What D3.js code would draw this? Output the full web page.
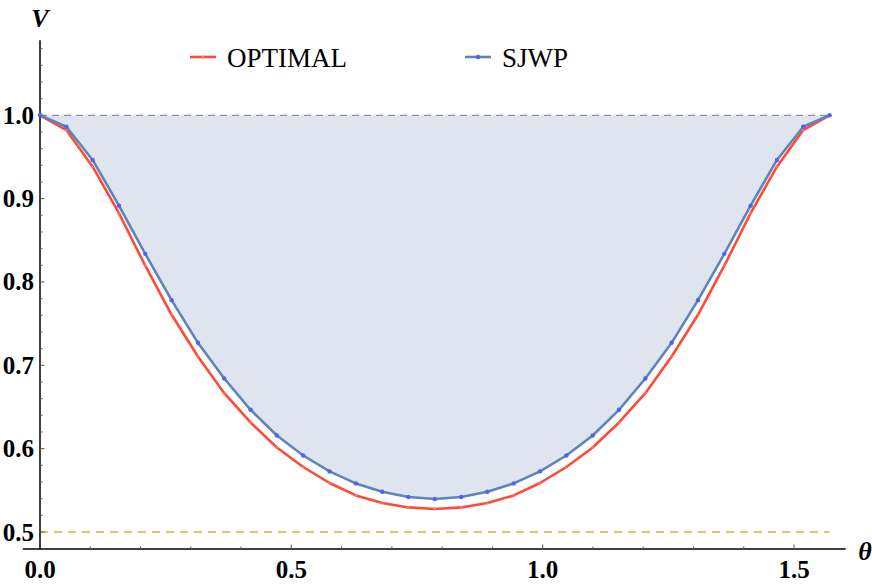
<!DOCTYPE html>
<html>
<head>
<meta charset="utf-8">
<script src="https://cdn.jsdelivr.net/npm/d3@7"></script>
<style>
  body { margin: 0; background: #fff; }
  svg { display: block; }
  .tick-label { font-family: "Liberation Serif", "Times New Roman", serif; font-weight: bold; font-size: 25px; fill: #000; }
  .legend-label { font-family: "Liberation Serif", "Times New Roman", serif; font-size: 27px; fill: #000; }
  .axis-label { font-family: "Liberation Serif", "Times New Roman", serif; font-weight: bold; font-style: italic; font-size: 26px; fill: #000; }
</style>
</head>
<body>
<svg id="chart" width="872" height="586"></svg>
<script>
const theta = [0, 0.0524, 0.1047, 0.1571, 0.2094, 0.2618, 0.3142, 0.3665, 0.4189, 0.4712,
  0.5236, 0.5760, 0.6283, 0.6807, 0.7330, 0.7854, 0.8378, 0.8901, 0.9425, 0.9948,
  1.0472, 1.0996, 1.1519, 1.2043, 1.2566, 1.3090, 1.3614, 1.4137, 1.4661, 1.5184, 1.5708]

const optimal = [1.0, 0.9823, 0.9384, 0.8825, 0.8195, 0.7606, 0.7106, 0.6666, 0.6314, 0.6014,
  0.5780, 0.5588, 0.5439, 0.5348, 0.5295, 0.5276, 0.5295, 0.5348, 0.5439, 0.5588,
  0.5780, 0.6014, 0.6314, 0.6666, 0.7106, 0.7606, 0.8195, 0.8825, 0.9384, 0.9823, 1.0]

const sjwp = [1.0, 0.9863, 0.9464, 0.8916, 0.8337, 0.7782, 0.7270, 0.6842, 0.6466, 0.6158,
  0.5918, 0.5727, 0.5583, 0.5483, 0.5420, 0.5396, 0.5420, 0.5483, 0.5583, 0.5727,
  0.5918, 0.6158, 0.6466, 0.6842, 0.7270, 0.7782, 0.8337, 0.8916, 0.9464, 0.9863, 1.0]

const seriesNames = ["OPTIMAL", "SJWP"]
const xTicks = [0.0, 0.5, 1.0, 1.5]
const yTicks = [0.5, 0.6, 0.7, 0.8, 0.9, 1.0]
const refUpper = 1.0
const refLower = 0.5

const svg = d3.select("#chart")

const x = d3.scaleLinear().domain([0, 1.5]).range([40, 794])
const y = d3.scaleLinear().domain([0.5, 1.0]).range([532, 115.3])

const xMin = -0.034, xMax = 1.603
const yMin = 0.4796, yMax = 1.09

const pts = theta.map((t, i) => ({ t: t, opt: optimal[i], sj: sjwp[i] }))

// area between SJWP and V = 1
svg.append("path")
  .datum(pts)
  .attr("d", d3.area().x(d => x(d.t)).y0(y(refUpper)).y1(d => y(d.sj)))
  .attr("fill", "#dfe5ef")

// reference lines
svg.append("line")
  .attr("x1", x(0)).attr("x2", x(theta[theta.length - 1]))
  .attr("y1", y(refUpper)).attr("y2", y(refUpper))
  .attr("stroke", "#7f93bb").attr("stroke-width", 1.2)
  .attr("stroke-dasharray", "7,5")

svg.append("line")
  .attr("x1", x(0)).attr("x2", x(theta[theta.length - 1]))
  .attr("y1", y(refLower)).attr("y2", y(refLower))
  .attr("stroke", "#f0a62a").attr("stroke-width", 1.3)
  .attr("stroke-dasharray", "8,6")

// axes
const xAxisY = y(yMin)
const yAxisX = x(0)

svg.append("line")
  .attr("x1", x(xMin)).attr("x2", x(xMax))
  .attr("y1", xAxisY).attr("y2", xAxisY)
  .attr("stroke", "#000").attr("stroke-width", 1.5)

svg.append("line")
  .attr("x1", yAxisX).attr("x2", yAxisX)
  .attr("y1", y(yMin)).attr("y2", y(yMax))
  .attr("stroke", "#000").attr("stroke-width", 1.5)

const xMinor = d3.range(1, 16).map(d => d / 10)
svg.selectAll(".xtick")
  .data(xMinor)
  .join("line")
  .attr("x1", d => x(d)).attr("x2", d => x(d))
  .attr("y1", xAxisY)
  .attr("y2", d => xAxisY - (Math.abs(d * 2 - Math.round(d * 2)) < 1e-6 ? 4.5 : 2.5))
  .attr("stroke", "#555").attr("stroke-width", 1)

const yMinor = d3.range(25, 55).map(d => d / 50)
svg.selectAll(".ytick")
  .data(yMinor)
  .join("line")
  .attr("y1", d => y(d)).attr("y2", d => y(d))
  .attr("x1", yAxisX)
  .attr("x2", d => yAxisX + (Math.abs(d * 10 - Math.round(d * 10)) < 1e-6 ? 4.5 : 2.5))
  .attr("stroke", "#555").attr("stroke-width", 1)

svg.selectAll(".xlabel")
  .data(xTicks)
  .join("text")
  .attr("class", "tick-label")
  .attr("x", d => x(d))
  .attr("y", 578)
  .attr("text-anchor", "middle")
  .text(d => d.toFixed(1))

svg.selectAll(".ylabel")
  .data(yTicks)
  .join("text")
  .attr("class", "tick-label")
  .attr("x", 34)
  .attr("y", d => y(d) + 8.5)
  .attr("text-anchor", "end")
  .text(d => d.toFixed(1))

svg.append("text").attr("class", "axis-label")
  .attr("x", 40).attr("y", 27).attr("text-anchor", "middle").text("V")

svg.append("text").attr("class", "axis-label")
  .attr("x", 865).attr("y", 560).attr("text-anchor", "middle").text("θ")

// curves
const line = key => d3.line().x(d => x(d.t)).y(d => y(d[key]))

svg.append("path")
  .datum(pts)
  .attr("d", line("opt"))
  .attr("fill", "none")
  .attr("stroke", "#ff4a3a")
  .attr("stroke-width", 2.6)
  .attr("stroke-linejoin", "round")

svg.append("path")
  .datum(pts)
  .attr("d", line("sj"))
  .attr("fill", "none")
  .attr("stroke", "#5f84b8")
  .attr("stroke-width", 2.6)
  .attr("stroke-linejoin", "round")

svg.selectAll(".optdot")
  .data(pts)
  .join("circle")
  .attr("cx", d => x(d.t)).attr("cy", d => y(d.opt))
  .attr("r", 1.4)
  .attr("fill", "#ff6f6a")

svg.selectAll(".sjdot")
  .data(pts)
  .join("circle")
  .attr("cx", d => x(d.t)).attr("cy", d => y(d.sj))
  .attr("r", 2.2)
  .attr("fill", "#4f62f2")

// legend
const legend = [
  { name: seriesNames[0], color: "#ff4a3a", dot: "#ff6f6a", r: 1.4, x0: 190 },
  { name: seriesNames[1], color: "#5f84b8", dot: "#4f62f2", r: 2.2, x0: 465 }
]

const lg = svg.selectAll(".legend")
  .data(legend)
  .join("g")
  .attr("transform", d => `translate(${d.x0},57)`)

lg.append("line")
  .attr("x1", 0).attr("x2", 26).attr("y1", 0).attr("y2", 0)
  .attr("stroke", d => d.color).attr("stroke-width", 2.6)

lg.append("circle")
  .attr("cx", 13).attr("cy", 0).attr("r", d => d.r)
  .attr("fill", d => d.dot)

lg.append("text")
  .attr("class", "legend-label")
  .attr("x", 37).attr("y", 9.5)
  .text(d => d.name)
</script>
</body>
</html>
